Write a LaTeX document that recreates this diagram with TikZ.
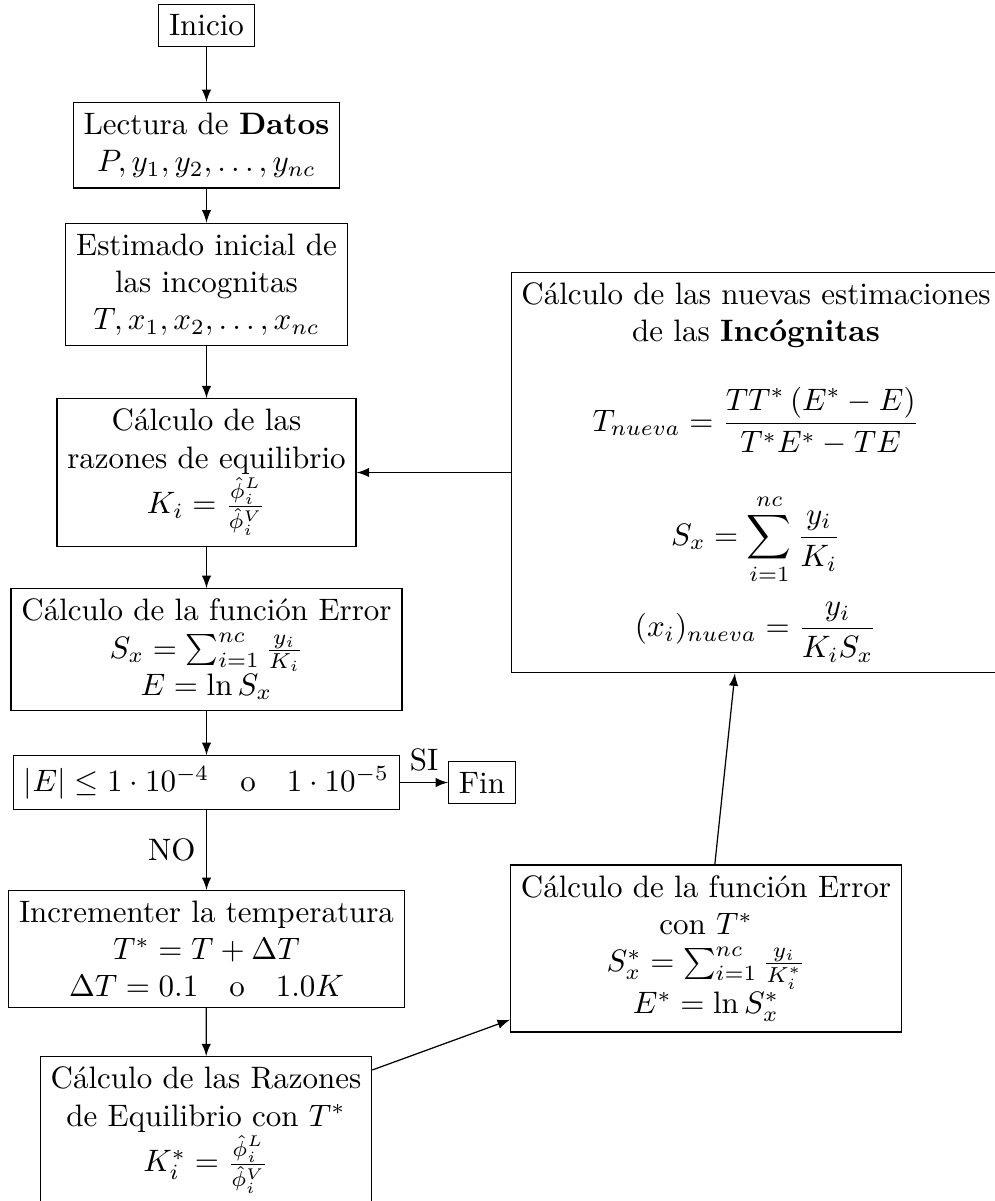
\documentclass[tikz,border=0pt]{standalone}
\usepackage{amsmath}
\usepackage{fontspec}
\usetikzlibrary{arrows}
\begin{document}
\begin{tikzpicture}[x=0.32258pt, y=-0.32258pt,
  box/.style={draw, align=center, font=\fontsize{10}{12}\selectfont},
  conn/.style={->, >=latex},
  lbl/.style={font=\fontsize{10}{12}\selectfont}]
\useasboundingbox (0,0) rectangle (995,1201);
\node[box] (ini) at (206.5,25.5) {Inicio};
\node[box] (dat) at (206.5,145.3) {Lectura de \textbf{Datos}\\ $P, y_1, y_2, \ldots, y_{nc}$};
\node[box] (est) at (206.5,284.5) {Estimado inicial de\\ las incognitas\\ $T, x_1, x_2, \ldots, x_{nc}$};
\node[box] (raz) at (206.5,472.5) {Cálculo de las\\ razones de equilibrio\\ $K_i = \frac{\hat{\phi}_i^L}{\hat{\phi}_i^V}$};
\node[box] (err) at (206.5,649.5) {Cálculo de la función Error\\ $S_x = \sum_{i=1}^{nc} \frac{y_i}{K_i}$\\ $E = \ln S_x$};
\node[box] (cond) at (206.5,782.5) {$|E| \leq 1\cdot 10^{-4} \quad \text{o} \quad 1\cdot 10^{-5}$};
\node[box] (fin) at (482,782.5) {Fin};
\node[box] (inc) at (206.5,949) {Incrementer la temperatura\\ $T^* = T + \Delta T$\\ $\Delta T = 0.1 \quad \text{o} \quad 1.0 K$};
\node[box] (raz2) at (206,1130.5) {Cálculo de las Razones\\ de Equilibrio con $T^*$\\ $K_i^* = \frac{\hat{\phi}_i^L}{\hat{\phi}_i^V}$};
\node[box] (err2) at (706,948.5) {Cálculo de la función Error\\ con $T^*$\\ $S_x^* = \sum_{i=1}^{nc} \frac{y_i}{K_i^*}$\\ $E^* = \ln S_x^*$};
\node[box] (new) at (756,472.5) {Cálculo de las nuevas estimaciones\\ de las \textbf{Incógnitas}\\[11.6pt]
  $\displaystyle T_{nueva} = \frac{TT^*\left(E^* - E\right)}{T^*E^* - TE}$\\[11.6pt]
  $\displaystyle S_x = \sum_{i=1}^{nc} \frac{y_i}{K_i}$\\[4.6pt]
  $\displaystyle (x_i)_{nueva} = \frac{y_i}{K_iS_x}$};
\draw[conn] (ini) -- (dat);
\draw[conn] (dat) -- (est);
\draw[conn] (est) -- (raz);
\draw[conn] (raz) -- (err);
\draw[conn] (err) -- (cond);
\draw[conn] (cond) -- node[lbl, above] {SI} (fin);
\draw[conn] (cond) -- node[lbl, left] {NO} (inc);
\draw[conn] (inc) -- (raz2);
\draw[conn] (raz2) -- (err2);
\draw[conn] (err2) -- (new);
\draw[conn] (new) -- (raz);
\end{tikzpicture}
\end{document}
